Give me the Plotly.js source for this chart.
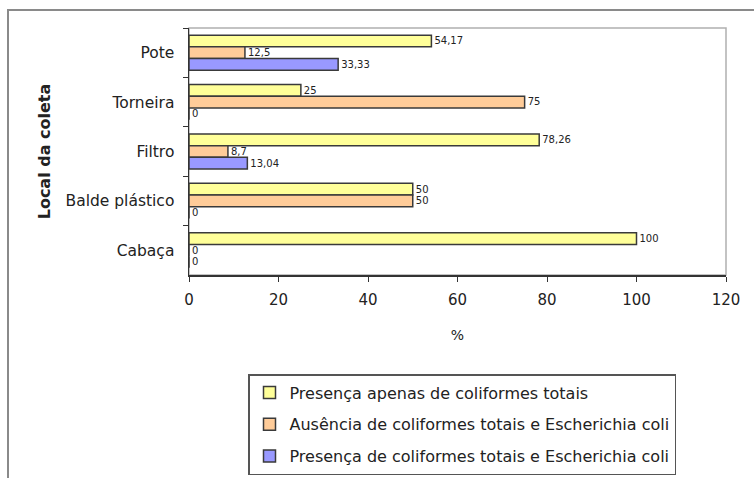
<!DOCTYPE html>
<html>
<head>
<meta charset="utf-8">
<script src="https://cdn.plot.ly/plotly-3.0.1.min.js"></script>
<style>
  html, body { margin: 0; padding: 0; background: #ffffff; }
  #wrap { position: relative; width: 754px; height: 478px; overflow: hidden; }
  #frame { position: absolute; left: 7px; top: 9px; width: 800px; height: 520px;
           border-left: 2px solid #8a8a8a; border-top: 2px solid #8a8a8a; box-sizing: border-box; }
  #chart { position: absolute; left: 0; top: 0; width: 754px; height: 478px; }
</style>
</head>
<body>
<div id="wrap">
  <div id="frame"></div>
  <div id="chart"></div>
</div>
<script>
// Categories (top to bottom)
const categories = ["Pote", "Torneira", "Filtro", "Balde plástico", "Cabaça"];

// Series values (%)
const apenasColiformes = [54.17, 25, 78.26, 50, 100];
const ausencia = [12.5, 75, 8.7, 50, 0];
const presencaEcoli = [33.33, 0, 13.04, 0, 0];

const seriesNames = [
  "Presença apenas de coliformes totais",
  "Ausência de coliformes totais e Escherichia coli",
  "Presença de coliformes totais e Escherichia coli"
];

const xTicks = [0, 20, 40, 60, 80, 100, 120];

const fmt = v => String(v).replace('.', ',');

const colors = ["#FFFF99", "#FFCC99", "#9999FF"];
const seriesValues = [apenasColiformes, ausencia, presencaEcoli];

const traces = seriesValues.map((vals, i) => ({
  type: 'bar',
  orientation: 'h',
  name: seriesNames[i],
  legendgroup: 'g' + i,
  y: categories,
  x: vals,
  text: vals.map(fmt),
  textposition: 'outside',
  cliponaxis: false,
  textfont: { family: 'DejaVu Sans', size: 12, color: '#222' },
  marker: { color: colors[i], line: { color: '#3a3a3a', width: 1.5 } },
  hoverinfo: 'none'
}));

const layout = {
  width: 754,
  height: 478,
  margin: { l: 189, r: 28, t: 28, b: 203, autoexpand: false },
  paper_bgcolor: 'rgba(0,0,0,0)',
  plot_bgcolor: '#ffffff',
  barmode: 'group',
  bargap: 0.29,
  bargroupgap: 0,
  font: { family: 'DejaVu Sans', color: '#222' },
  showlegend: true,
  legend: {
    x: (248 - 189) / 537, xanchor: 'left',
    y: (275 - 374) / 247, yanchor: 'top',
    traceorder: 'grouped',
    tracegroupgap: 8,
    bordercolor: '#555555',
    borderwidth: 1.5,
    bgcolor: '#ffffff',
    font: { family: 'DejaVu Sans', size: 16, color: '#222' }
  },
  xaxis: {
    range: [0, 120],
    tickvals: xTicks,
    ticktext: xTicks.map(String),
    showgrid: false,
    zeroline: false,
    showline: true,
    linecolor: '#333',
    linewidth: 1.5,
    ticks: 'outside',
    ticklen: 5,
    tickcolor: '#333',
    tickfont: { family: 'DejaVu Sans', size: 15, color: '#222' },
    ticklabelstandoff: 5,
    title: { text: '%', font: { family: 'DejaVu Sans', size: 14, color: '#222' }, standoff: 22 }
  },
  yaxis: {
    type: 'category',
    autorange: 'reversed',
    showgrid: false,
    zeroline: false,
    showline: true,
    linecolor: '#333',
    linewidth: 1.5,
    ticks: 'outside',
    tickson: 'boundaries',
    ticklen: 5,
    tickcolor: '#333',
    tickfont: { family: 'DejaVu Sans', size: 15.5, color: '#222' },
    ticklabelstandoff: 10,
    title: { text: '<b>Local da coleta</b>', font: { family: 'DejaVu Sans', size: 16, color: '#222' }, standoff: 11 }
  },
  shapes: [{
    type: 'rect', xref: 'paper', yref: 'paper', x0: 0, x1: 1, y0: 0, y1: 1,
    line: { color: '#b0b0b0', width: 1.5 }, layer: 'below'
  }]
};

Plotly.newPlot('chart', traces, layout, { displayModeBar: false, staticPlot: true });
</script>
</body>
</html>
